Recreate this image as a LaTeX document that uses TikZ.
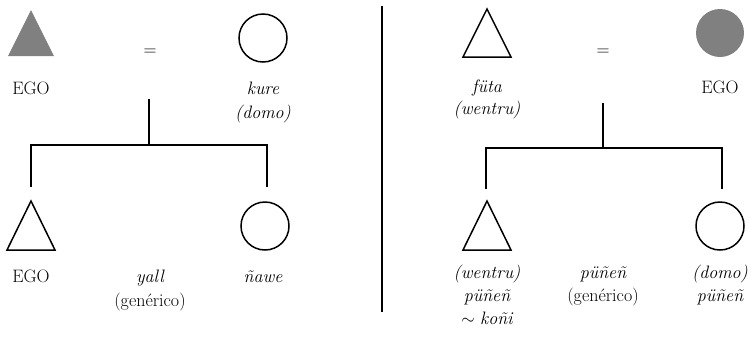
\documentclass[tikz,border=0pt]{standalone}
\usepackage{fontspec}
\definecolor{egogray}{HTML}{808080}
\begin{document}
\begin{tikzpicture}[x=1pt,y=-1pt,
  line/.style={line width=1.6pt},
  shapeline/.style={line width=1.5pt},
  lbl/.style={anchor=base,inner sep=0pt,font=\fontsize{18}{22}\selectfont},
  eq/.style={anchor=center,inner sep=0pt,font=\fontsize{18}{22}\selectfont}]
\useasboundingbox (0,0) rectangle (750,338);
% ---------------- left panel ----------------
\fill[egogray] (8,56) -- (31,10) -- (54,56) -- cycle;
\node[draw,shapeline,circle,minimum size=48pt,inner sep=0pt] (lw) at (263,38) {};
\node[eq] (leq) at (150,52) {=};
\node[lbl] (lego) at (31,94) {EGO};
\node[lbl] (lkure) at (263,94) {\itshape kure};
\node[lbl] (ldomo) at (263,118) {\itshape (domo)};
\coordinate (lm1) at (149,99);
\coordinate (lm2) at (149,145);
\coordinate (lbl1) at (31,145);
\coordinate (lbr1) at (267,145);
\coordinate (lbl2) at (31,187);
\coordinate (lbr2) at (267,187);
\draw[line] (lm1) -- (lm2);
\draw[line,line cap=rect] (lbl1) -- (lbr1);
\draw[line] (lbl1) -- (lbl2);
\draw[line] (lbr1) -- (lbr2);
\draw[shapeline,line join=miter] (7,250) -- (31,201) -- (55,250) -- cycle;
\node[draw,shapeline,circle,minimum size=48pt,inner sep=0pt] (lsis) at (265,226) {};
\node[lbl] (lego2) at (31,282) {EGO};
\node[lbl] (lyall) at (150,282) {\itshape yall};
\node[lbl] (lgen) at (150,306) {(genérico)};
\node[lbl] (lnawe) at (263,282) {\itshape ñawe};
% ---------------- divider ----------------
\coordinate (d1) at (382,6);
\coordinate (d2) at (382,312);
\draw[line] (d1) -- (d2);
% ---------------- right panel ----------------
\draw[shapeline,line join=miter] (463,57) -- (487,9) -- (511,57) -- cycle;
\node[fill=egogray,circle,minimum size=48pt,inner sep=0pt] (rego) at (720,33) {};
\node[eq] (req) at (603,52) {=};
\node[lbl] (rfuta) at (487,92) {\itshape füta};
\node[lbl] (rwentru) at (487,114) {\itshape (wentru)};
\node[lbl] (regolbl) at (720,93) {EGO};
\coordinate (rm1) at (603,103);
\coordinate (rm2) at (603,148);
\coordinate (rbl1) at (486,148);
\coordinate (rbr1) at (722,148);
\coordinate (rbl2) at (486,189);
\coordinate (rbr2) at (722,189);
\draw[line] (rm1) -- (rm2);
\draw[line,line cap=rect] (rbl1) -- (rbr1);
\draw[line] (rbl1) -- (rbl2);
\draw[line] (rbr1) -- (rbr2);
\draw[shapeline,line join=miter] (463,250) -- (487,201) -- (511,250) -- cycle;
\node[draw,shapeline,circle,minimum size=48pt,inner sep=0pt] (rsis) at (720,226) {};
\node[lbl] (rb1) at (487,278) {\itshape (wentru)};
\node[lbl] (rb2) at (487,301) {\itshape püñeñ};
\node[lbl] (rb3) at (487,324) {$\sim$ \itshape koñi};
\node[lbl] (rc1) at (603,278) {\itshape püñeñ};
\node[lbl] (rc2) at (603,301) {(genérico)};
\node[lbl] (rd1) at (720,278) {\itshape (domo)};
\node[lbl] (rd2) at (720,301) {\itshape püñeñ};
\end{tikzpicture}
\end{document}
